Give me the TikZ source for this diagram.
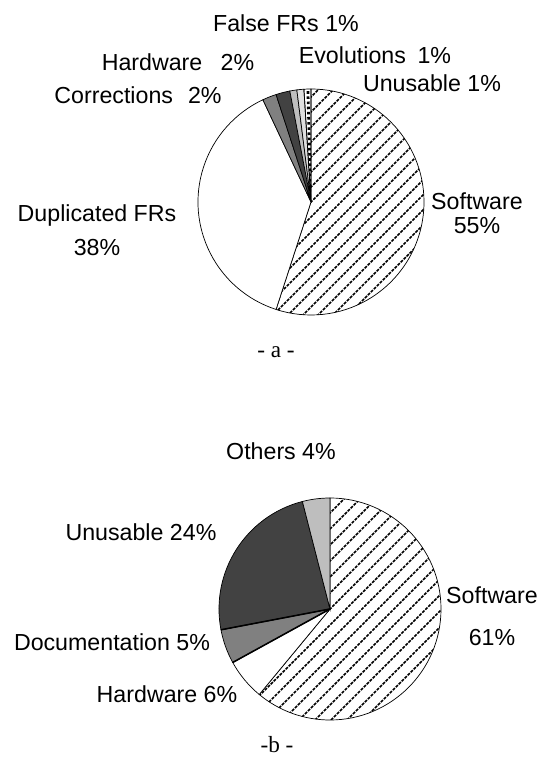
\documentclass[tikz,border=0pt]{standalone}
\usepackage{fontspec}
\setmainfont{Liberation Sans}
\newfontfamily\capfont{Liberation Serif}

\begin{document}
\begin{tikzpicture}[
  slice/.style={draw=black, line width=0.6pt},
  hatchline/.style={line width=1.25pt, dash pattern=on 2.6pt off 1pt},
  lbl/.style={inner sep=0pt, align=center, font=\fontsize{19.8}{23.8}\selectfont},
  captext/.style={inner sep=0pt, anchor=base, font=\capfont\fontsize{19.8}{23.8}\selectfont}
]
\definecolor{corr_color}{RGB}{128,128,128}
\definecolor{hw_color}{RGB}{66,66,66}
\definecolor{false_color}{RGB}{190,190,190}
\definecolor{evol_color}{RGB}{222,222,222}

\useasboundingbox (0,0) rectangle (16.26,22.74);

% pie a
\coordinate (pieA) at (9.33,16.68);
\begin{scope}
\clip (pieA) -- ++(90:3.39) arc[start angle=90, end angle=-108, radius=3.39] -- cycle;
\foreach \i in {-16,...,16}
  \draw[hatchline] ({9.33+0.45*\i-3.6},13.08) -- ({9.33+0.45*\i+3.6},20.28);
\end{scope}
\draw[slice] (pieA) -- ++(90:3.39) arc[start angle=90, end angle=-108, radius=3.39] -- cycle;
\filldraw[slice, fill=white] (pieA) -- ++(-108:3.39) arc[start angle=-108, end angle=-244.8, radius=3.39] -- cycle;
\filldraw[slice, fill=corr_color] (pieA) -- ++(115.2:3.39) arc[start angle=115.2, end angle=108, radius=3.39] -- cycle;
\filldraw[slice, fill=hw_color] (pieA) -- ++(108:3.39) arc[start angle=108, end angle=100.8, radius=3.39] -- cycle;
\filldraw[slice, fill=false_color] (pieA) -- ++(100.8:3.39) arc[start angle=100.8, end angle=97.2, radius=3.39] -- cycle;
\filldraw[slice, fill=evol_color] (pieA) -- ++(97.2:3.39) arc[start angle=97.2, end angle=93.6, radius=3.39] -- cycle;
\begin{scope}
\clip (pieA) -- ++(93.6:3.39) arc[start angle=93.6, end angle=90, radius=3.39] -- cycle;
\draw[line width=2.4pt, dash pattern=on 2.2pt off 2.2pt] (pieA) -- ++(91.6:3.5);
\end{scope}
\draw[slice] (pieA) -- ++(93.6:3.39) arc[start angle=93.6, end angle=90, radius=3.39] -- cycle;

\node[lbl] (falseA) at (8.58,22.05) {False FRs 1\%};
\node[lbl] (hwA) at (5.34,20.88) {Hardware\hspace{0.55cm}2\%};
\node[lbl] (evolA) at (11.25,21.09) {Evolutions\hspace{0.35cm}1\%};
\node[lbl] (corrA) at (4.14,19.89) {Corrections\hspace{0.45cm}2\%};
\node[lbl] (unusA) at (12.96,20.25) {Unusable 1\%};
\node[lbl] (dupA) at (2.91,15.84) {Duplicated FRs\\[5.1pt]38\%};
\node[lbl] (softA) at (14.31,16.35) {Software\\[-3.4pt]55\%};
\node[captext] (capA) at (8.28,12.00) {- a -};

% pie b
\coordinate (pieB) at (9.90,4.47);
\begin{scope}
\clip (pieB) -- ++(90:3.33) arc[start angle=90, end angle=-129.6, radius=3.33] -- cycle;
\foreach \i in {-16,...,16}
  \draw[hatchline] ({9.90+0.48*\i-3.6},0.87) -- ({9.90+0.48*\i+3.6},8.07);
\end{scope}
\draw[slice] (pieB) -- ++(90:3.33) arc[start angle=90, end angle=-129.6, radius=3.33] -- cycle;
\filldraw[slice, fill=white] (pieB) -- ++(-129.6:3.33) arc[start angle=-129.6, end angle=-151.2, radius=3.33] -- cycle;
\filldraw[slice, fill=corr_color] (pieB) -- ++(-151.2:3.33) arc[start angle=-151.2, end angle=-169.2, radius=3.33] -- cycle;
\filldraw[slice, fill=hw_color] (pieB) -- ++(-169.2:3.33) arc[start angle=-169.2, end angle=-255.6, radius=3.33] -- cycle;
\filldraw[slice, fill=false_color] (pieB) -- ++(104.4:3.33) arc[start angle=104.4, end angle=90, radius=3.33] -- cycle;
\draw[line width=1.3pt] (pieB) -- ++(-151.2:3.33);
\draw[line width=1.3pt] (pieB) -- ++(-169.2:3.33);

\node[lbl] (othB) at (8.43,9.21) {Others 4\%};
\node[lbl] (unusB) at (4.23,6.78) {Unusable 24\%};
\node[lbl] (softB) at (14.76,4.26) {Software\\[11.9pt]61\%};
\node[lbl] (docB) at (3.36,3.48) {Documentation 5\%};
\node[lbl] (hwB) at (5.01,1.92) {Hardware 6\%};
\node[captext] (capB) at (8.31,0.18) {-b -};

\end{tikzpicture}
\end{document}
